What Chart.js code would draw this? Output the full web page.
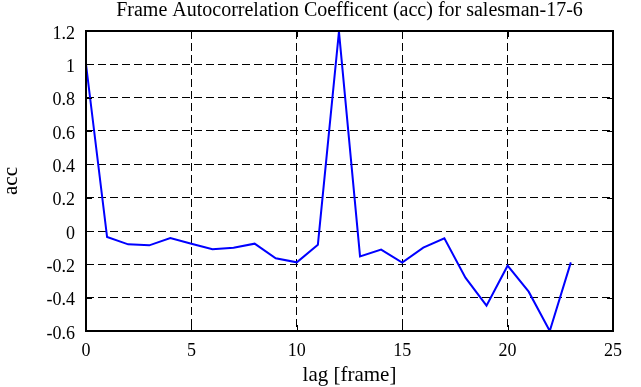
<!DOCTYPE html>
<html>
<head>
<meta charset="utf-8">
<script src="https://cdn.jsdelivr.net/npm/chart.js@4.4.1/dist/chart.umd.min.js"></script>
<style>
  html, body { margin: 0; padding: 0; background: #fff; }
  #wrap { width: 641px; height: 387px; }
</style>
</head>
<body>
<div id="wrap"><canvas id="c" width="641" height="387"></canvas></div>
<script>
const lags = [0,1,2,3,4,5,6,7,8,9,10,11,12,13,14,15,16,17,18,19,20,21,22,23];
const acc = [1.0,-0.036,-0.08,-0.086,-0.042,-0.076,-0.11,-0.10,-0.076,-0.164,-0.188,-0.082,1.196,-0.152,-0.112,-0.19,-0.10,-0.044,-0.28,-0.448,-0.208,-0.364,-0.6,-0.188];
const xTicks = [0,5,10,15,20,25];
const yTicks = [-0.6,-0.4,-0.2,0,0.2,0.4,0.6,0.8,1,1.2];
const titleText = 'Frame Autocorrelation Coefficent (acc) for salesman-17-6';
const xLabel = 'lag [frame]';
const yLabel = 'acc';

const FONT = 'Liberation Serif, Times New Roman, serif';

const frame = {
  id: 'frame',
  afterDatasetsDraw(chart) {
    const {ctx, chartArea: a, scales} = chart;
    ctx.save();
    ctx.strokeStyle = '#000';
    ctx.lineWidth = 1;
    ctx.setLineDash([]);
    const L = 6;
    ctx.beginPath();
    yTicks.forEach(v => {
      const y = Math.round(scales.y.getPixelForValue(v)) + 0.5;
      ctx.moveTo(a.left, y); ctx.lineTo(a.left + L, y);
      ctx.moveTo(a.right, y); ctx.lineTo(a.right - L, y);
    });
    xTicks.forEach(v => {
      const x = Math.round(scales.x.getPixelForValue(v)) + 0.5;
      ctx.moveTo(x, a.bottom); ctx.lineTo(x, a.bottom - L);
      ctx.moveTo(x, a.top); ctx.lineTo(x, a.top + L);
    });
    ctx.stroke();
    ctx.lineWidth = 2;
    ctx.strokeRect(a.left, a.top, a.right - a.left, a.bottom - a.top);
    ctx.restore();
  }
};

new Chart(document.getElementById('c'), {
  type: 'line',
  data: {
    datasets: [{
      data: lags.map((l, i) => ({x: l, y: acc[i]})),
      borderColor: '#0000ff',
      borderWidth: 2,
      pointRadius: 0,
      tension: 0,
      fill: false
    }]
  },
  options: {
    responsive: false,
    animation: false,
    devicePixelRatio: 1,
    layout: { padding: { left: 0, right: 28, top: 0, bottom: 0 } },
    plugins: {
      legend: { display: false },
      tooltip: { enabled: false },
      title: {
        display: true,
        fullSize: false,
        text: titleText,
        color: '#000',
        font: { family: FONT, size: 20, weight: 'normal', lineHeight: 1 },
        padding: { top: 1, bottom: 10 }
      }
    },
    scales: {
      x: {
        type: 'linear',
        min: 0, max: 25,
        afterBuildTicks(s) { s.ticks = xTicks.map(v => ({value: v})); },
        afterFit(s) { s.height = 56; },
        ticks: {
          color: '#000',
          font: { family: FONT, size: 18 },
          padding: 9,
          maxRotation: 0,
          callback: v => String(v)
        },
        grid: { color: '#000', lineWidth: 1, drawTicks: false },
        border: { display: false, dash: [8, 4] },
        title: {
          display: true, text: xLabel, color: '#000',
          font: { family: FONT, size: 21, lineHeight: 1.1 },
          padding: { top: 0, bottom: 0 }
        }
      },
      y: {
        min: -0.6, max: 1.2,
        afterBuildTicks(s) { s.ticks = yTicks.map(v => ({value: v})); },
        afterFit(s) { s.width = 86; },
        ticks: {
          color: '#000',
          font: { family: FONT, size: 18 },
          padding: 11,
          labelOffset: 3,
          callback: v => String(Number(v.toFixed(1)))
        },
        grid: { color: '#000', lineWidth: 1, drawTicks: false },
        border: { display: false, dash: [8, 4] },
        title: {
          display: true, text: yLabel, color: '#000',
          font: { family: FONT, size: 21, lineHeight: 1.1 },
          padding: { top: 0, bottom: 0 }
        }
      }
    }
  },
  plugins: [frame]
});
</script>
</body>
</html>
